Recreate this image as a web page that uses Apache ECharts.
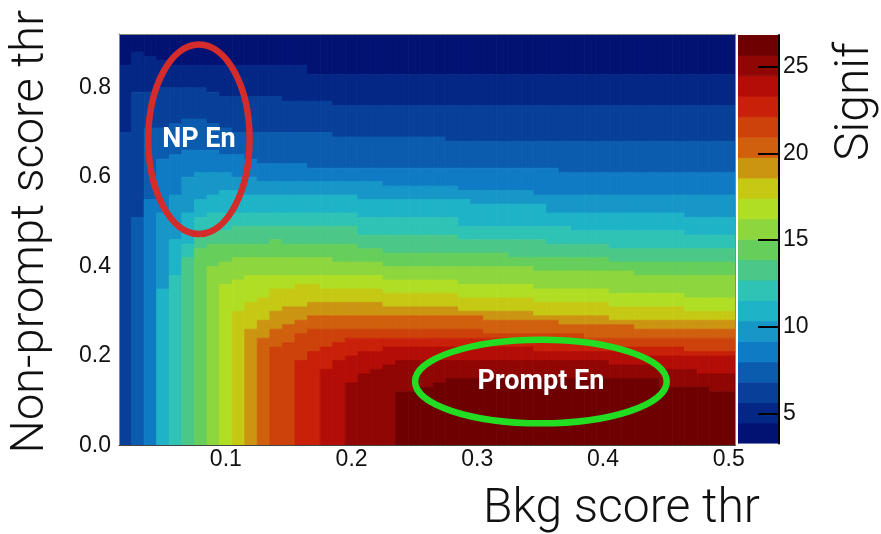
<!DOCTYPE html>
<html><head><meta charset="utf-8">
<script src="https://cdn.jsdelivr.net/npm/echarts@6/dist/echarts.min.js"></script>
<style>html,body{margin:0;padding:0;background:#fff}#c{width:881px;height:534px}</style>
</head><body><div id="c"></div>
<script>
// x bin centres (Bkg score thr), bin width 0.01
const xBinCenters = [0.02,0.03,0.04,0.05,0.06,0.07,0.08,0.09,0.10,0.11,0.12,0.13,0.14,0.15,0.16,0.17,0.18,0.19,0.20,0.21,0.22,0.23,0.24,0.25,0.26,0.27,0.28,0.29,0.30,0.31,0.32,0.33,0.34,0.35,0.36,0.37,0.38,0.39,0.40,0.41,0.42,0.43,0.44,0.45,0.46,0.47,0.48,0.49,0.50];
const xBinWidth = 0.01;
const yMax = 0.92;
// colour scale (Signif)
const zMin = 3.27, zMax = 26.83, nBands = 20;
const bandColors = ['#021273','#042685','#073f99','#0b5cae','#0f7bc5','#1797c7','#1fb3c8','#2fc3b5','#4bc888','#66ce5a','#8dd63e','#b0de25','#c6c914','#cb9411','#d0600d','#cd410b','#c92009','#b40d07','#900604','#6e0002'];
// For each contour level k (1..19): height (in units of 0.01 of Non-prompt score thr)
// below which the significance is in band k or higher, per x bin
const top1  = [85,88,87,86,85,85,85,85,85,85, 85,85,85,85,85,83,83,83,83,83, 83,83,83,83,83,83,83,83,83,83, 83,83,83,83,83,83,83,83,83,83, 83,83,83,83,83,83,83,83,83];
const top2  = [70,79,79,80,80,80,80,79,78,78, 78,78,78,77,77,77,77,76,76,76, 76,76,76,76,76,76,76,76,76,76, 76,76,76,76,76,76,76,76,76,76, 76,76,76,76,76,76,76,76,76];
const top3  = [0,51,71,71,72,73,73,72,71,70, 70,70,70,70,70,70,70,69,69,69, 69,69,69,69,69,69,68,68,68,68, 68,68,68,68,68,68,68,68,68,68, 68,68,68,68,68,68,68,68,68];
const top4  = [0,0,55,64,65,66,66,66,65,65, 64,63,63,63,63,62,62,62,62,62, 62,62,62,62,62,62,62,62,62,62, 62,62,62,62,62,61,61,61,61,61, 61,61,61,61,61,61,61,61,61];
const top5  = [0,0,0,52,56,60,61,61,61,60, 60,59,59,59,59,59,59,59,59,59, 59,58,58,58,58,58,58,57,57,57, 57,57,57,56,56,56,56,56,56,56, 56,56,56,56,56,56,56,56,56];
const top6  = [0,0,0,35,46,52,55,56,57,57, 56,56,56,56,56,56,56,56,56,55, 55,55,55,55,55,55,55,55,54,54, 54,54,54,54,52,52,52,52,52,52, 52,52,52,52,52,51,51,51,51];
const top7  = [0,0,0,0,38,45,51,52,52,52, 52,52,52,52,52,52,52,52,52,51, 51,51,51,51,51,51,51,49,49,49, 49,49,49,49,49,49,48,48,48,48, 48,48,48,48,48,47,47,47,47];
const top8  = [0,0,0,0,0,42,47,48,48,49, 49,49,49,49,49,49,49,49,49,47, 47,47,47,47,47,47,47,46,46,46, 46,46,46,46,45,45,45,45,45,44, 44,44,44,44,44,44,44,44,44];
const top9  = [0,0,0,0,0,0,44,45,45,45, 45,45,46,45,45,45,45,45,45,44, 44,43,43,43,43,43,43,43,43,43, 43,42,42,42,42,42,42,42,42,41, 41,41,41,41,41,41,41,41,41];
const top10 = [0,0,0,0,0,0,0,40,41,42, 42,42,42,42,42,42,42,41,41,41, 41,40,40,40,40,40,40,40,40,40, 40,40,40,39,39,39,39,39,39,39, 39,38,38,38,38,38,38,38,38];
const top11 = [0,0,0,0,0,0,0,0,36,37, 38,38,38,38,38,38,38,38,38,38, 38,37,37,37,37,37,37,36,36,36, 36,36,36,35,35,35,35,35,35,34, 34,34,34,34,34,33,33,33,33];
const top12 = [0,0,0,0,0,0,0,0,0,30, 32,33,35,35,36,36,35,35,35,35, 35,34,34,34,34,34,34,33,33,33, 33,33,33,32,32,32,32,32,32,31, 31,31,31,31,31,30,30,30,30];
const top13 = [0,0,0,0,0,0,0,0,0,0, 26,28,30,31,31,32,32,32,32,32, 32,31,31,31,31,31,31,30,30,30, 30,30,30,29,29,29,29,29,29,28, 28,28,28,28,28,28,28,28,28];
const top14 = [0,0,0,0,0,0,0,0,0,0, 0,24,26,27,28,29,29,29,29,29, 29,29,29,29,29,29,29,29,29,28, 28,28,28,28,28,27,27,27,27,27, 27,26,26,26,26,26,26,26,26];
const top15 = [0,0,0,0,0,0,0,0,0,0, 0,0,22,23,25,26,26,26,26,26, 26,26,26,26,26,26,26,26,26,25, 25,25,25,25,25,25,25,24,24,24, 24,24,24,24,24,24,24,24,24];
const top16 = [0,0,0,0,0,0,0,0,0,0, 0,0,0,0,19,21,22,23,24,24, 24,24,24,24,24,24,24,24,24,24, 24,23,23,23,23,23,23,23,23,22, 22,22,22,22,22,21,21,21,21];
const top17 = [0,0,0,0,0,0,0,0,0,0, 0,0,0,0,0,0,17,19,20,21, 21,22,22,22,22,22,22,22,22,22, 22,22,22,21,21,21,21,21,21,21, 21,20,20,20,20,20,20,20,20];
const top18 = [0,0,0,0,0,0,0,0,0,0, 0,0,0,0,0,0,0,0,14,16, 17,18,19,19,19,19,19,19,19,19, 19,19,19,19,19,19,19,19,19,18, 18,18,18,17,17,17,16,16,16];
const top19 = [0,0,0,0,0,0,0,0,0,0, 0,0,0,0,0,0,0,0,0,0, 0,0,12,12,13,14,15,15,15,15, 15,15,15,15,15,15,15,15,15,15, 15,15,15,13,13,13,13,12,12];
// axis ticks
const xTicks = [0.1,0.2,0.3,0.4,0.5];
const yTicks = [0.0,0.2,0.4,0.6,0.8];
const zTicks = [5,10,15,20,25];
const xTitle = 'Bkg score thr', yTitle = 'Non-prompt score thr', zTitle = 'Signif';

const contourTops = [top1,top2,top3,top4,top5,top6,top7,top8,top9,top10,top11,top12,top13,top14,top15,top16,top17,top18,top19];
const bandStep = (zMax - zMin) / nBands;
const mainData = [];
xBinCenters.forEach((xc, c) => {
  const H = [Math.round(yMax*100)].concat(contourTops.map(a => a[c])).concat([0]);
  for (let k = 0; k < nBands; k++) {
    const lo = H[k+1], hi = H[k];
    if (hi > lo) mainData.push([xc - xBinWidth/2, xc + xBinWidth/2, lo/100, hi/100, zMin + bandStep*(k+0.5)]);
  }
});
const barData = bandColors.map((_, k) => [0, 1, zMin + bandStep*k, zMin + bandStep*(k+1), zMin + bandStep*(k+0.5)]);

function renderCell(params, api) {
  const p0 = api.coord([api.value(0), api.value(3)]);
  const p1 = api.coord([api.value(1), api.value(2)]);
  const col = api.visual('color');
  return {type:'rect', shape:{x:p0[0], y:p0[1], width:p1[0]-p0[0], height:p1[1]-p0[1]},
          style:{fill:col, stroke:col, lineWidth:0.8}};
}

const tickFont = {fontFamily:'Liberation Sans, Arial, sans-serif', fontSize:23, color:'#111'};
const chart = echarts.init(document.getElementById('c'), null, {renderer:'canvas'});
chart.setOption({
  animation:false,
  backgroundColor:'#fff',
  grid:[
    {left:119, right:146, top:34, bottom:88.5},
    {left:738, width:41, top:35, bottom:90.5}
  ],
  visualMap:{type:'piecewise', show:false, dimension:4, seriesIndex:[0,1],
    pieces: bandColors.map((col,k)=>({gte: zMin+bandStep*k, lt: zMin+bandStep*(k+1), color: col}))},
  xAxis:[
    {gridIndex:0, type:'value', min:0.015, max:0.505, position:'bottom', z:10,
     axisLine:{show:true, onZero:false, lineStyle:{color:'#444', width:1}}, axisTick:{show:false}, splitLine:{show:false},
     axisLabel:Object.assign({customValues:xTicks, formatter:v=>v.toFixed(1), margin:3}, tickFont)},
    {gridIndex:0, type:'value', min:0.015, max:0.505, position:'top', z:10,
     axisLine:{show:true, onZero:false, lineStyle:{color:'#888', width:1}}, axisTick:{show:false}, axisLabel:{show:false}, splitLine:{show:false}},
    {gridIndex:1, type:'value', min:0, max:1, show:false}
  ],
  yAxis:[
    {gridIndex:0, type:'value', min:0, max:yMax, position:'left', z:10,
     axisLine:{show:true, onZero:false, lineStyle:{color:'#888', width:1}}, axisTick:{show:false}, splitLine:{show:false},
     axisLabel:Object.assign({customValues:yTicks, formatter:v=>v.toFixed(1), margin:8}, tickFont)},
    {gridIndex:0, type:'value', min:0, max:yMax, position:'right', z:10,
     axisLine:{show:true, onZero:false, lineStyle:{color:'#888', width:1}}, axisTick:{show:false}, axisLabel:{show:false}, splitLine:{show:false}},
    {gridIndex:1, type:'value', min:zMin, max:zMax, position:'right', z:10,
     axisLine:{show:true, onZero:false, lineStyle:{color:'#000', width:2}},
     axisTick:{show:true, inside:true, length:21, customValues:zTicks, lineStyle:{color:'#000', width:2}},
     splitLine:{show:false},
     axisLabel:Object.assign({customValues:zTicks, margin:4}, tickFont)}
  ],
  series:[
    {type:'custom', name:'Signif', xAxisIndex:0, yAxisIndex:0, clip:true, renderItem:renderCell,
     encode:{x:[0,1], y:[2,3]}, data:mainData, z:2},
    {type:'custom', name:'palette', xAxisIndex:2, yAxisIndex:2, clip:true, renderItem:renderCell,
     encode:{x:[0,1], y:[2,3]}, data:barData, z:2}
  ]
});

// annotations, placed in data coordinates
const px = (x,y) => chart.convertToPixel({xAxisIndex:0, yAxisIndex:0}, [x,y]);
const npC = px(0.0786, 0.6846), npR = px(0.0786+0.0403, 0.6846+0.2118);
const prC = px(0.3506, 0.143),  prR = px(0.3506+0.1001, 0.143+0.0934);
chart.setOption({
  graphic:[
    {type:'ellipse', z:50, shape:{cx:npC[0], cy:npC[1], rx:npR[0]-npC[0], ry:npC[1]-npR[1]},
     style:{fill:'none', stroke:'#d42b2b', lineWidth:6.5}},
    {type:'ellipse', z:50, shape:{cx:prC[0], cy:prC[1], rx:prR[0]-prC[0], ry:prC[1]-prR[1]},
     style:{fill:'none', stroke:'#22dd22', lineWidth:6.5}},
    {type:'text', z:51, x:npC[0], y:npC[1]+1, style:{text:'NP En', fill:'#fff', font:'bold 27px Roboto', align:'center', verticalAlign:'middle'}},
    {type:'text', z:51, x:prC[0], y:prC[1]+1, style:{text:'Prompt En', fill:'#fff', font:'bold 27px Roboto', align:'center', verticalAlign:'middle'}},
    {type:'text', z:51, x:760, y:510, style:{text:xTitle, fill:'#111', font:'300 48px Roboto', align:'right', verticalAlign:'middle'}},
    {type:'text', z:51, x:31, y:10, rotation:Math.PI/2, style:{text:yTitle, fill:'#111', font:'300 47px Roboto', align:'right', verticalAlign:'middle'}},
    {type:'text', z:51, x:856, y:42, rotation:Math.PI/2, style:{text:zTitle, fill:'#111', font:'300 48px Roboto', align:'right', verticalAlign:'middle'}}
  ]
});
</script></body></html>
